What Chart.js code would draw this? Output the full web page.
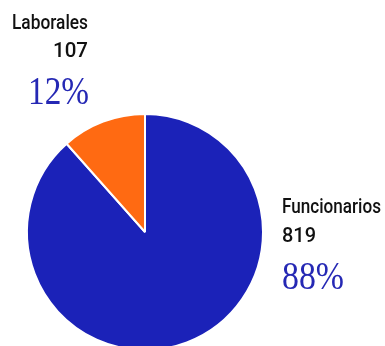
<!DOCTYPE html>
<html>
<head>
<meta charset="utf-8">
<script src="https://cdn.jsdelivr.net/npm/chart.js@4/dist/chart.umd.min.js"></script>
<style>
  html, body { margin: 0; padding: 0; background: #fff; overflow: hidden; }
  #wrap { width: 385px; height: 360px; }
</style>
</head>
<body>
<div id="wrap"><canvas id="pieChart" width="385" height="360"></canvas></div>
<script>
const categories = ['Funcionarios', 'Laborales'];
const counts = [819, 107];
const sliceColors = ['#1b22b8', '#ff6a12'];

const SANS = 'Roboto, "DejaVu Sans Condensed", sans-serif';
const SERIF = '"Liberation Serif", "DejaVu Serif", serif';

// category name, count and share next to each slice
const sliceLabels = {
    id: 'sliceLabels',
    afterDraw(chart) {
        const ctx = chart.ctx;
        const total = counts.reduce((a, b) => a + b, 0);
        const pct = counts.map(v => Math.round(v / total * 100) + '%');
        ctx.save();
        ctx.textBaseline = 'alphabetic';

        // Laborales, top left, right aligned
        ctx.textAlign = 'right';
        ctx.fillStyle = '#111';
        ctx.font = '500 21px ' + SANS;
        ctx.fillText(categories[1], 88, 29, 76);
        ctx.fillText(String(counts[1]), 88, 57, 35);
        ctx.fillStyle = '#2528b4';
        ctx.font = '41px ' + SERIF;
        ctx.fillText(pct[1], 89, 104, 61);

        // Funcionarios, right side, left aligned
        ctx.textAlign = 'left';
        ctx.fillStyle = '#111';
        ctx.font = '500 21px ' + SANS;
        ctx.fillText(categories[0], 282, 213, 99);
        ctx.fillText(String(counts[0]), 282, 242, 34);
        ctx.fillStyle = '#2528b4';
        ctx.font = '41px ' + SERIF;
        ctx.fillText(pct[0], 282, 289, 62);
        ctx.restore();
    }
};

new Chart(document.getElementById('pieChart').getContext('2d'), {
    type: 'pie',
    data: {
        labels: categories,
        datasets: [{
            data: counts,
            backgroundColor: sliceColors,
            borderColor: '#ffffff',
            borderWidth: 2
        }]
    },
    options: {
        responsive: false,
        animation: false,
        layout: { padding: { left: 26, right: 121, top: 113, bottom: 9 } },
        plugins: {
            legend: { display: false },
            tooltip: { enabled: false }
        }
    },
    plugins: [sliceLabels]
});
</script>
</body>
</html>
